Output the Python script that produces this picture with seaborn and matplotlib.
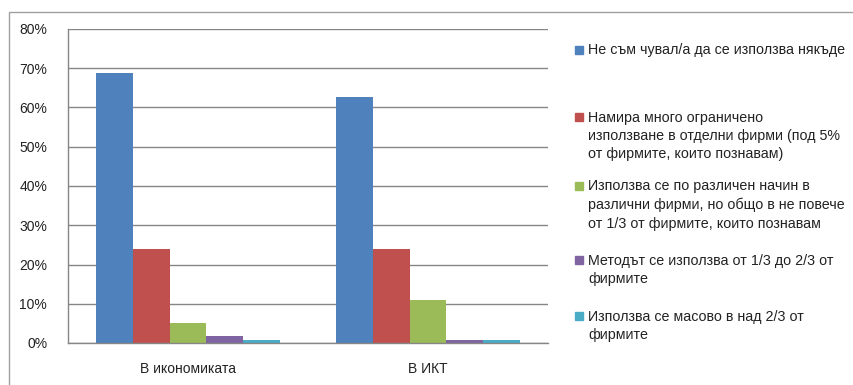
import matplotlib
matplotlib.use("Agg")
import matplotlib.pyplot as plt
import matplotlib.patches as mpatches
import seaborn as sns
import pandas as pd

categories = ["В икономиката", "В ИКТ"]
series = [
    "Не съм чувал/а да се използва някъде",
    "Намира много ограничено\nизползване в отделни фирми (под 5%\nот фирмите, които познавам)",
    "Използва се по различен начин в\nразлични фирми, но общо в не повече\nот 1/3 от фирмите, които познавам",
    "Методът се използва от 1/3 до 2/3 от\nфирмите",
    "Използва се масово в над 2/3 от\nфирмите",
]
# percent values, one list per series (economy, ICT)
s1 = [68.8, 62.8]
s2 = [23.9, 23.9]
s3 = [5.1, 11.0]
s4 = [1.8, 0.8]
s5 = [0.8, 0.8]
colors = ["#4F81BD", "#C0504D", "#9BBB59", "#8064A2", "#4BACC6"]

rows = []
for name, vals in zip(series, [s1, s2, s3, s4, s5]):
    for c, v in zip(categories, vals):
        rows.append({"cat": c, "series": name, "val": v})
df = pd.DataFrame(rows)

sns.set_style("white")
plt.rcParams['font.family'] = ['Liberation Sans', 'DejaVu Sans']

fig = plt.figure(figsize=(8.54, 3.85), dpi=100)
ax = fig.add_axes([68/854, 1-343/385, 480/854, 314/385])

sns.barplot(data=df, x="cat", y="val", hue="series", palette=colors,
            saturation=1, width=0.77, gap=0, linewidth=0, ax=ax, legend=False)

grid = "#868686"
ax.set_ylim(0, 80)
ax.set_yticks(range(0, 81, 10))
ax.set_yticklabels([f"{v}%" for v in range(0, 81, 10)], fontsize=10, color="#222222")
ax.yaxis.grid(True, color=grid, linewidth=1)
ax.set_axisbelow(True)
ax.set_xlim(-0.5, 1.5)
ax.set_xticks([0, 1])
ax.set_xticklabels(categories, fontsize=10, color="#222222")
ax.set_xticks([-0.5, 0.5, 1.5], minor=True)
ax.tick_params(axis="x", which="major", length=0, pad=14)
ax.tick_params(axis="x", which="minor", length=5, color=grid, direction="out")
ax.tick_params(axis="y", length=5, color=grid, direction="out", pad=10)
ax.set_xlabel("")
ax.set_ylabel("")
for side in ["top", "right"]:
    ax.spines[side].set_visible(False)
for side in ["left", "bottom"]:
    ax.spines[side].set_color(grid)
    ax.spines[side].set_linewidth(1)

# legend, placed like the original
legend_y = [50, 136, 205, 270, 326]
for name, col, yc in zip(series, colors, legend_y):
    n = name.count("\n") + 1
    ytop = yc - (n - 1) * 19.5 / 2
    fig.patches.append(mpatches.Rectangle((575/854, 1-(ytop+4)/385), 8/854, 8/385,
                                          transform=fig.transFigure, color=col))
    fig.text(588/854, 1-yc/385, name, fontsize=10.3, va="center", ha="left",
             linespacing=1.4, color="#222222")

# chart frame
fig.patches.append(mpatches.Rectangle((9/854, -0.1), 1.0, 1-12/385+0.1,
                                      transform=fig.transFigure, fill=False,
                                      edgecolor="#A0A0A0", linewidth=1))

fig.savefig("out.png", dpi=100)
